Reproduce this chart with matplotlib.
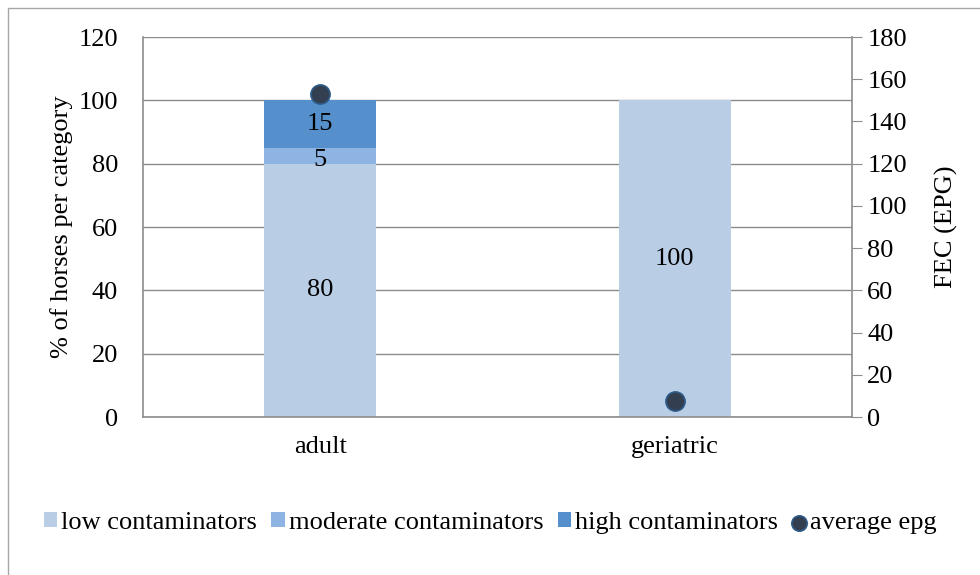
import numpy as np
import matplotlib.pyplot as plt
from matplotlib.patches import Rectangle

# data
categories = ['adult', 'geriatric']
low = [80, 100]
moderate = [5, 0]
high = [15, 0]
avg_epg = [153, 7.5]

ff = 'Liberation Serif'
plt.rcParams['font.family'] = 'serif'
plt.rcParams['font.serif'] = [ff, 'DejaVu Serif']
fs = 19

fig = plt.figure(figsize=(9.8, 5.75), dpi=100)
ax = fig.add_axes([143/980, 1 - 417/575, (852-143)/980, (417-37)/575])

# outer frame of the chart area
fig.patches.append(Rectangle((8/980, -0.1), 1.1, 1 - 8/575 + 0.1, transform=fig.transFigure,
                             fill=False, edgecolor='#a6a6a6', linewidth=1))

x = np.arange(len(categories))
w = 0.316
c_low, c_mod, c_high = '#b9cde5', '#8eb4e3', '#5590cc'

ax.bar(x, low, w, color=c_low, label='low contaminators', zorder=2)
ax.bar(x, moderate, w, bottom=low, color=c_mod, label='moderate contaminators', zorder=2)
ax.bar(x, high, w, bottom=np.array(low) + np.array(moderate), color=c_high,
       label='high contaminators', zorder=2)

# segment labels
for i in range(len(categories)):
    if low[i] > 0:
        ax.text(x[i], low[i] / 2, str(low[i]), ha='center', va='center', fontsize=fs,
                family=ff, zorder=3)
    if moderate[i] > 0:
        ax.text(x[i], low[i] + moderate[i] / 2 - 1.5, str(moderate[i]), ha='center', va='center',
                fontsize=fs, family=ff, zorder=3)
    if high[i] > 0:
        ax.text(x[i], low[i] + moderate[i] + high[i] / 2, str(high[i]), ha='center', va='center',
                fontsize=fs, family=ff, zorder=3)

ax.set_xlim(-0.5, 1.5)
ax.set_ylim(0, 120)
ax.set_yticks(range(0, 121, 20))
ax.set_yticklabels([str(v) for v in range(0, 121, 20)], family=ff, fontsize=fs)
ax.set_xticks(x)
ax.set_xticklabels(categories, family=ff, fontsize=fs)
ax.grid(axis='y', color='#8c8c8c', linewidth=1, zorder=0)
ax.set_axisbelow(True)
ax.tick_params(axis='x', length=0, pad=14)
ax.tick_params(axis='y', length=0, pad=18)
ax.set_ylabel('% of horses per category', fontsize=fs, family=ff, labelpad=4)
for s in ['top', 'right']:
    ax.spines[s].set_visible(False)
for s in ['left', 'bottom']:
    ax.spines[s].set_color('#8c8c8c')
    ax.spines[s].set_linewidth(1.2)

ax2 = ax.twinx()
ax2.scatter(x, avg_epg, s=190, color='#333f50', edgecolors='#2e5b8a', linewidths=1.2,
            label='average epg', zorder=5)
ax2.set_ylim(0, 180)
ax2.set_yticks(range(0, 181, 20))
ax2.set_yticklabels([str(v) for v in range(0, 181, 20)], family=ff, fontsize=fs)
ax2.tick_params(axis='y', length=7, color='#8c8c8c', pad=4)
ax2.set_ylabel('FEC (EPG)', fontsize=fs, family=ff, labelpad=20)
for s in ['top', 'left', 'bottom']:
    ax2.spines[s].set_visible(False)
ax2.spines['right'].set_color('#8c8c8c')
ax2.spines['right'].set_linewidth(1.2)

h1, l1 = ax.get_legend_handles_labels()
h2, l2 = ax2.get_legend_handles_labels()
fig.legend(h1 + h2, l1 + l2, loc='center', bbox_to_anchor=(490/980, 1 - 523/575), ncol=4,
           frameon=False, prop={'family': ff, 'size': fs}, handlelength=0.5, handleheight=0.5,
           handletextpad=0.15, columnspacing=0.55, borderpad=0, markerscale=0.8)

fig.savefig('out.png', dpi=100)
